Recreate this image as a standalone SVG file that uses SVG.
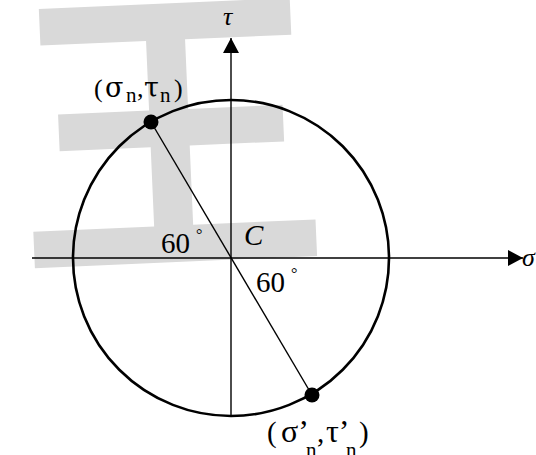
<svg xmlns="http://www.w3.org/2000/svg" width="536" height="455" viewBox="0 0 536 455">
<style>
.wm{font-family:"Noto Sans CJK SC","Noto Sans CJK JP",sans-serif;font-weight:bold;fill:#d9d9d9}
.t{font-family:"Liberation Serif","Times New Roman",serif;fill:#000}
.g{font-family:"DejaVu Serif","Liberation Serif",serif}
.i{font-style:italic}
.ax{stroke:#000;stroke-width:1.4;fill:none}
</style>
<defs>
<marker id="ah" markerWidth="16" markerHeight="16" refX="15" refY="8" orient="auto" markerUnits="userSpaceOnUse">
<path d="M0,0 L15,8 L0,16 Z" fill="#000"/>
</marker>
</defs>
<g id="watermark">
<text class="wm" x="170" y="248" font-size="310" text-anchor="middle" transform="rotate(-2.5 170 135)">王</text>
</g>
<g id="circle">
<circle cx="231" cy="258" r="158" fill="none" stroke="#000" stroke-width="2.6"/>
</g>
<g id="connectors">
<line class="ax" x1="32" y1="258" x2="523" y2="258" marker-end="url(#ah)"/>
<line class="ax" x1="231" y1="415" x2="231" y2="38" marker-end="url(#ah)"/>
<line class="ax" x1="151" y1="122" x2="312" y2="395"/>
</g>
<g id="point-n">
<circle cx="151" cy="122" r="7.5" fill="#000"/>
<text class="t" y="97" font-size="26"><tspan x="94">(</tspan><tspan class="g" x="105" font-size="27">σ</tspan><tspan x="126" y="102" font-size="21">n</tspan><tspan x="137" y="97">,</tspan><tspan class="g" x="144" font-size="27">τ</tspan><tspan x="160" y="102" font-size="21">n</tspan><tspan x="174" y="97">)</tspan></text>
</g>
<g id="point-n2">
<circle cx="312" cy="395" r="7.5" fill="#000"/>
<text class="t" y="442" font-size="29"><tspan x="267">(</tspan><tspan x="281" font-size="32">σ’</tspan><tspan x="306" y="457" font-size="21">n</tspan><tspan x="317" y="442">,</tspan><tspan x="326" font-size="32">τ’</tspan><tspan x="346" y="457" font-size="21">n</tspan><tspan x="359" y="442">)</tspan></text>
</g>
<g id="labels">
<text class="t i" x="223" y="25" font-size="26">τ</text>
<text class="t i" x="522" y="266" font-size="26">σ</text>
<text class="t i" x="244" y="245" font-size="29">C</text>
<text class="t" x="161" y="253" font-size="29">60</text>
<text class="t" x="196" y="240" font-size="16">°</text>
<text class="t" x="256" y="292" font-size="29">60</text>
<text class="t" x="291" y="279" font-size="16">°</text>
</g>
</svg>
